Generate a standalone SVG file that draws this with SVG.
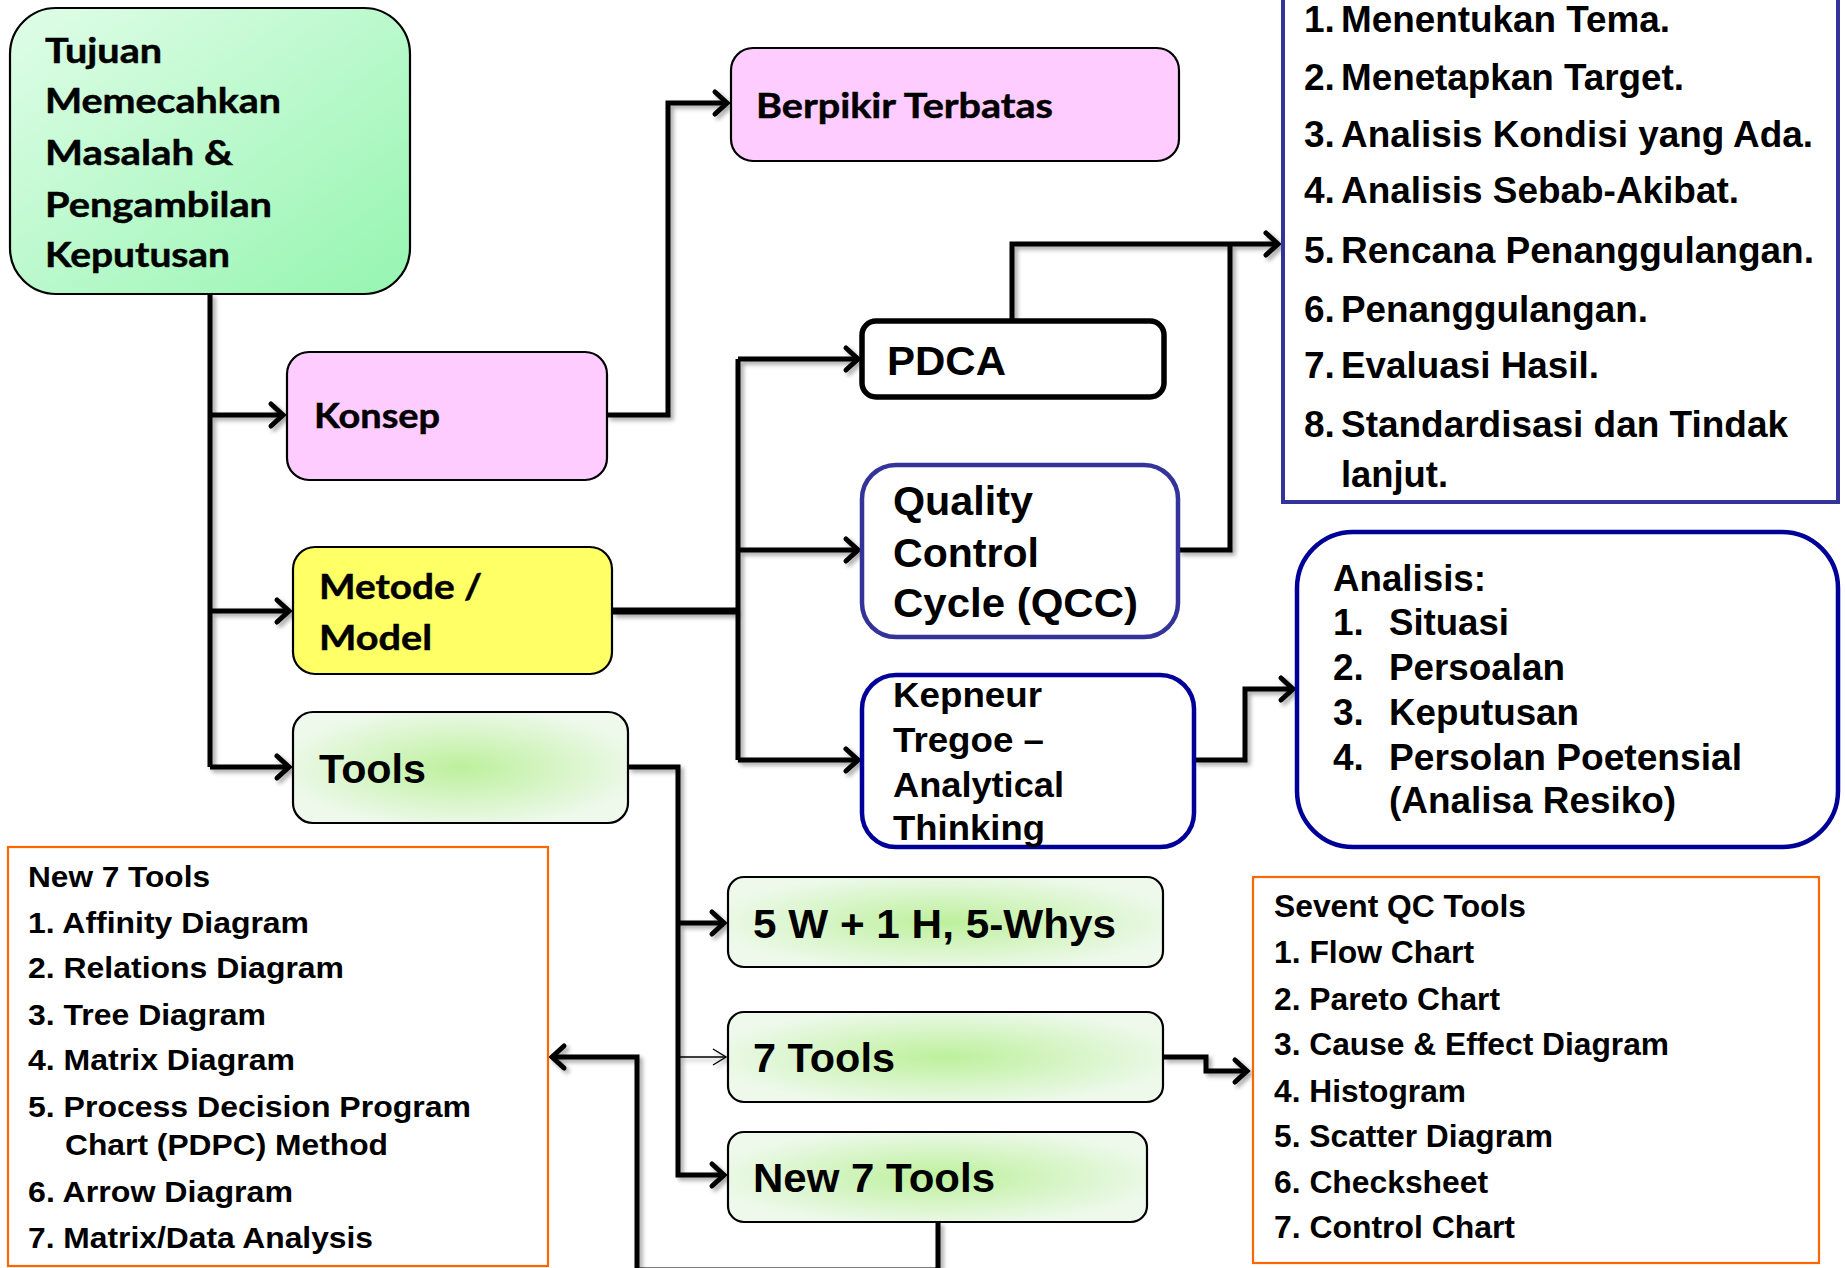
<svg xmlns="http://www.w3.org/2000/svg" width="1845" height="1268" viewBox="0 0 1845 1268">
  <defs>
    <linearGradient id="gMint" x1="0" y1="0" x2="1" y2="1">
      <stop offset="0" stop-color="#e0fde8"/>
      <stop offset="1" stop-color="#95f5b0"/>
    </linearGradient>
    <radialGradient id="gTool" cx="0.5" cy="0.5" r="0.55">
      <stop offset="0" stop-color="#bdf09c"/>
      <stop offset="1" stop-color="#eef9ec"/>
    </radialGradient>
    <filter id="shadow" x="-5%" y="-5%" width="110%" height="110%">
      <feDropShadow dx="3" dy="3" stdDeviation="2" flood-color="#000" flood-opacity="0.35"/>
    </filter>
    <marker id="arr" markerUnits="userSpaceOnUse" viewBox="-16 -16 32 32" markerWidth="32" markerHeight="32" refX="0" refY="0" orient="auto">
      <path d="M-12,-11 L0,0 L-12,11" fill="none" stroke="#000" stroke-width="5" stroke-linecap="round"/>
    </marker>
    <marker id="arrThin" markerUnits="userSpaceOnUse" viewBox="-16 -16 32 32" markerWidth="32" markerHeight="32" refX="0" refY="0" orient="auto">
      <path d="M-13,-8 L0,0 L-13,8" fill="none" stroke="#000" stroke-width="1.4"/>
    </marker>
  </defs>
  <style>
    .box{stroke:#000;stroke-width:2.2}
    .cal{font-family:Lato,"Open Sans",sans-serif;font-weight:700;font-size:35px;fill:#000;stroke:#000;stroke-width:0.5}
    .ar{font-family:"Liberation Sans",Arial,sans-serif;font-weight:700;fill:#000}
    .wire{fill:none;stroke:#000;stroke-width:5;stroke-linejoin:miter}
    .arrow{marker-end:url(#arr)}
    .orange{fill:#fff;stroke:#ff6600;stroke-width:2.2}
  </style>
  <rect width="1845" height="1268" fill="#fff"/>

  <!-- connectors -->
  <g id="connectors" filter="url(#shadow)">
    <path class="wire" d="M210,294 V767"/>
    <path class="wire arrow" d="M210,415 H283"/>
    <path class="wire arrow" d="M210,611 H289"/>
    <path class="wire arrow" d="M210,767 H289"/>
    <path class="wire arrow" d="M607,415 H668 V103 H727"/>
    <path class="wire" d="M612,611 H738" style="stroke-width:7"/>
    <path class="wire" d="M738,359 V760"/>
    <path class="wire arrow" d="M738,359 H858"/>
    <path class="wire arrow" d="M738,550 H858"/>
    <path class="wire arrow" d="M738,760 H858"/>
    <path class="wire arrow" d="M1012,321 V244 H1278"/>
    <path class="wire" d="M1178,550 H1230 V244"/>
    <path class="wire arrow" d="M1194,760 H1245 V689 H1293"/>
    <path class="wire arrow" d="M628,767 H678 V1175 H724"/>
    <path class="wire arrow" d="M678,923 H724"/>
    <path d="M678,1057 H726" fill="none" stroke="#000" stroke-width="1.3" marker-end="url(#arrThin)"/>
    <path class="wire arrow" d="M1163,1057 H1206 V1071 H1247"/>
    <path class="wire arrow" d="M938,1222 V1270 H637 V1057 H552"/>
  </g>

  <!-- goal -->
  <g id="tujuan">
    <rect class="box" x="10" y="8" width="400" height="286" rx="46" fill="url(#gMint)"/>
    <text class="cal" x="45" y="63" textLength="117" lengthAdjust="spacingAndGlyphs">Tujuan</text>
    <text class="cal" x="45" y="113" textLength="236" lengthAdjust="spacingAndGlyphs">Memecahkan</text>
    <text class="cal" x="45" y="165" textLength="188" lengthAdjust="spacingAndGlyphs">Masalah &amp;</text>
    <text class="cal" x="45" y="217" textLength="227" lengthAdjust="spacingAndGlyphs">Pengambilan</text>
    <text class="cal" x="45" y="267" textLength="185" lengthAdjust="spacingAndGlyphs">Keputusan</text>
  </g>

  <g id="konsep">
    <rect class="box" x="287" y="352" width="320" height="128" rx="22" fill="#ffccff"/>
    <text class="cal" x="314" y="428" textLength="126" lengthAdjust="spacingAndGlyphs">Konsep</text>
  </g>

  <g id="berpikir">
    <rect class="box" x="731" y="48" width="448" height="113" rx="22" fill="#ffccff"/>
    <text class="cal" x="756" y="118" textLength="297" lengthAdjust="spacingAndGlyphs">Berpikir Terbatas</text>
  </g>

  <g id="metode">
    <rect class="box" x="293" y="547" width="319" height="127" rx="22" fill="#ffff66"/>
    <text class="cal" x="319" y="599" textLength="163" lengthAdjust="spacingAndGlyphs">Metode /</text>
    <text class="cal" x="319" y="650" textLength="113" lengthAdjust="spacingAndGlyphs">Model</text>
  </g>

  <g id="tools">
    <rect class="box" x="293" y="712" width="335" height="111" rx="20" fill="url(#gTool)"/>
    <text class="ar" x="319" y="783" font-size="41" textLength="107" lengthAdjust="spacingAndGlyphs">Tools</text>
  </g>

  <g id="pdca">
    <rect x="862" y="321" width="302" height="76" rx="14" fill="#fff" stroke="#000" stroke-width="5.5"/>
    <text class="ar" x="887" y="375" font-size="41" textLength="119" lengthAdjust="spacingAndGlyphs">PDCA</text>
  </g>

  <g id="qcc">
    <rect x="862" y="465" width="316" height="172" rx="34" fill="#fff" stroke="#333399" stroke-width="4.5"/>
    <text class="ar" x="893" y="515" font-size="41" textLength="140" lengthAdjust="spacingAndGlyphs">Quality</text>
    <text class="ar" x="893" y="567" font-size="41" textLength="146" lengthAdjust="spacingAndGlyphs">Control</text>
    <text class="ar" x="893" y="617" font-size="41" textLength="245" lengthAdjust="spacingAndGlyphs">Cycle (QCC)</text>
  </g>

  <g id="kepneur">
    <rect x="862" y="675" width="332" height="172" rx="34" fill="#fff" stroke="#000099" stroke-width="4.5"/>
    <text class="ar" x="893" y="707" font-size="35" textLength="149" lengthAdjust="spacingAndGlyphs">Kepneur</text>
    <text class="ar" x="893" y="752" font-size="35" textLength="151" lengthAdjust="spacingAndGlyphs">Tregoe –</text>
    <text class="ar" x="893" y="797" font-size="35" textLength="171" lengthAdjust="spacingAndGlyphs">Analytical</text>
    <text class="ar" x="893" y="840" font-size="35" textLength="152" lengthAdjust="spacingAndGlyphs">Thinking</text>
  </g>

  <g id="langkah">
    <rect x="1283" y="-10" width="555" height="512" fill="#fff" stroke="#333399" stroke-width="4"/>
    <g class="ar" font-size="37">
      <text x="1304" y="32">1.</text>
      <text x="1341" y="32" textLength="329" lengthAdjust="spacingAndGlyphs">Menentukan Tema.</text>
      <text x="1304" y="90">2.</text>
      <text x="1341" y="90" textLength="343" lengthAdjust="spacingAndGlyphs">Menetapkan Target.</text>
      <text x="1304" y="147">3.</text>
      <text x="1341" y="147" textLength="472" lengthAdjust="spacingAndGlyphs">Analisis Kondisi yang Ada.</text>
      <text x="1304" y="203">4.</text>
      <text x="1341" y="203" textLength="398" lengthAdjust="spacingAndGlyphs">Analisis Sebab-Akibat.</text>
      <text x="1304" y="263">5.</text>
      <text x="1341" y="263" textLength="473" lengthAdjust="spacingAndGlyphs">Rencana Penanggulangan.</text>
      <text x="1304" y="322">6.</text>
      <text x="1341" y="322" textLength="307" lengthAdjust="spacingAndGlyphs">Penanggulangan.</text>
      <text x="1304" y="378">7.</text>
      <text x="1341" y="378" textLength="258" lengthAdjust="spacingAndGlyphs">Evaluasi Hasil.</text>
      <text x="1304" y="437">8.</text>
      <text x="1341" y="437" textLength="447" lengthAdjust="spacingAndGlyphs">Standardisasi dan Tindak</text>
      <text x="1341" y="487" textLength="107" lengthAdjust="spacingAndGlyphs">lanjut.</text>
    </g>
  </g>

  <g id="analisis">
    <rect x="1297" y="532" width="541" height="315" rx="56" fill="#fff" stroke="#000099" stroke-width="4.5"/>
    <g class="ar" font-size="37">
      <text x="1333" y="591" textLength="153" lengthAdjust="spacingAndGlyphs">Analisis:</text>
      <text x="1333" y="635">1.</text>
      <text x="1389" y="635" textLength="120" lengthAdjust="spacingAndGlyphs">Situasi</text>
      <text x="1333" y="680">2.</text>
      <text x="1389" y="680" textLength="176" lengthAdjust="spacingAndGlyphs">Persoalan</text>
      <text x="1333" y="725">3.</text>
      <text x="1389" y="725" textLength="190" lengthAdjust="spacingAndGlyphs">Keputusan</text>
      <text x="1333" y="770">4.</text>
      <text x="1389" y="770" textLength="353" lengthAdjust="spacingAndGlyphs">Persolan Poetensial</text>
      <text x="1389" y="813" textLength="287" lengthAdjust="spacingAndGlyphs">(Analisa Resiko)</text>
    </g>
  </g>

  <g id="lima-w">
    <rect class="box" x="728" y="877" width="435" height="90" rx="16" fill="url(#gTool)"/>
    <text class="ar" x="753" y="938" font-size="41" textLength="363" lengthAdjust="spacingAndGlyphs">5 W + 1 H, 5-Whys</text>
  </g>

  <g id="tujuh-tools">
    <rect class="box" x="728" y="1012" width="435" height="90" rx="16" fill="url(#gTool)"/>
    <text class="ar" x="753" y="1072" font-size="41" textLength="142" lengthAdjust="spacingAndGlyphs">7 Tools</text>
  </g>

  <g id="new-tujuh-tools">
    <rect class="box" x="728" y="1132" width="419" height="90" rx="16" fill="url(#gTool)"/>
    <text class="ar" x="753" y="1192" font-size="41" textLength="242" lengthAdjust="spacingAndGlyphs">New 7 Tools</text>
  </g>

  <g id="daftar-new7">
    <rect class="orange" x="8" y="847" width="540" height="419"/>
    <g class="ar" font-size="30">
      <text x="28" y="887" font-size="29" textLength="182" lengthAdjust="spacingAndGlyphs">New 7 Tools</text>
      <text x="28" y="933" textLength="281" lengthAdjust="spacingAndGlyphs">1. Affinity Diagram</text>
      <text x="28" y="978" textLength="316" lengthAdjust="spacingAndGlyphs">2. Relations Diagram</text>
      <text x="28" y="1025" textLength="238" lengthAdjust="spacingAndGlyphs">3. Tree Diagram</text>
      <text x="28" y="1070" textLength="267" lengthAdjust="spacingAndGlyphs">4. Matrix Diagram</text>
      <text x="28" y="1117" textLength="443" lengthAdjust="spacingAndGlyphs">5. Process Decision Program</text>
      <text x="65" y="1155" textLength="323" lengthAdjust="spacingAndGlyphs">Chart (PDPC) Method</text>
      <text x="28" y="1202" textLength="265" lengthAdjust="spacingAndGlyphs">6. Arrow Diagram</text>
      <text x="28" y="1248" textLength="345" lengthAdjust="spacingAndGlyphs">7. Matrix/Data Analysis</text>
    </g>
  </g>

  <g id="daftar-qc7">
    <rect class="orange" x="1253" y="877" width="566" height="386"/>
    <g class="ar" font-size="31">
      <text x="1274" y="917" textLength="252" lengthAdjust="spacingAndGlyphs">Sevent QC Tools</text>
      <text x="1274" y="963" textLength="200" lengthAdjust="spacingAndGlyphs">1. Flow Chart</text>
      <text x="1274" y="1010" textLength="226" lengthAdjust="spacingAndGlyphs">2. Pareto Chart</text>
      <text x="1274" y="1055" textLength="395" lengthAdjust="spacingAndGlyphs">3. Cause &amp; Effect Diagram</text>
      <text x="1274" y="1102" textLength="192" lengthAdjust="spacingAndGlyphs">4. Histogram</text>
      <text x="1274" y="1147" textLength="279" lengthAdjust="spacingAndGlyphs">5. Scatter Diagram</text>
      <text x="1274" y="1193" textLength="214" lengthAdjust="spacingAndGlyphs">6. Checksheet</text>
      <text x="1274" y="1238" textLength="241" lengthAdjust="spacingAndGlyphs">7. Control Chart</text>
    </g>
  </g>
</svg>
